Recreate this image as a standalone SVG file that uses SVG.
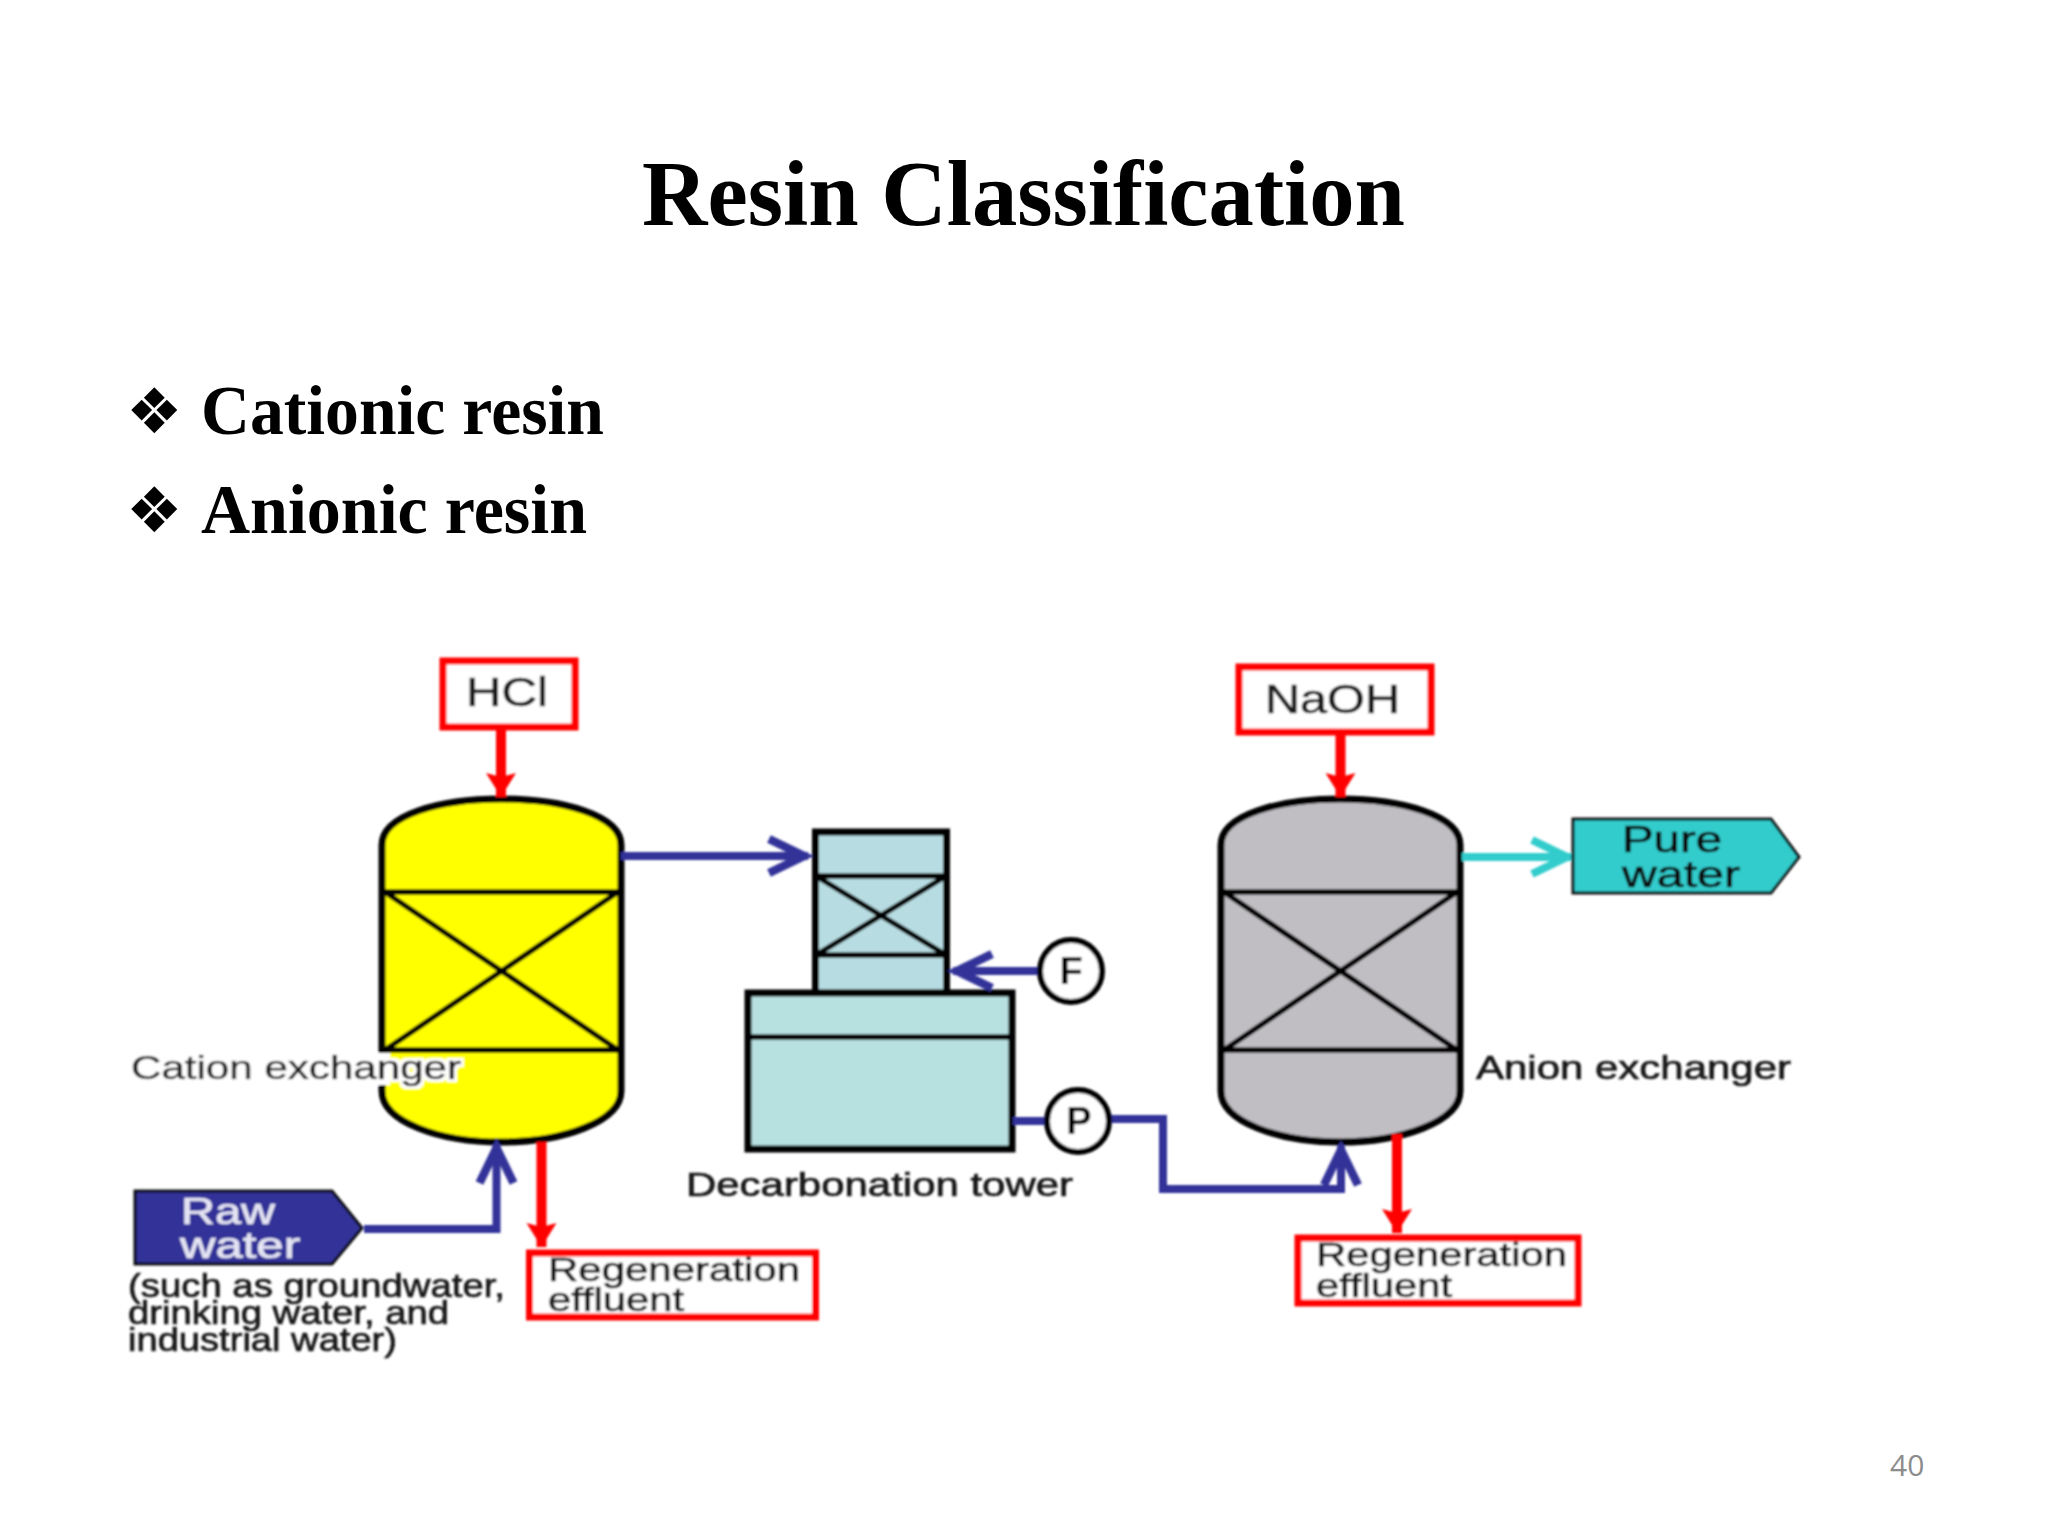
<svg xmlns="http://www.w3.org/2000/svg" width="2048" height="1536" viewBox="0 0 2048 1536">
<style>
.serif{font-family:"Liberation Serif","Times New Roman",serif;font-weight:bold;fill:#000}
.bul{font-family:"DejaVu Sans",sans-serif;font-size:63px;fill:#000}
.lab{font-family:"Liberation Sans",Arial,sans-serif;font-size:33px;fill:#1a1a1a;stroke:#1a1a1a;stroke-width:.7}
.big{font-size:41px}
.wht{fill:#e4e4f4;stroke:#e4e4f4;font-size:37px}
.out{fill:none;stroke:#000;stroke-width:7}
.thin{fill:none;stroke:#000;stroke-width:5.5}
.redbox{fill:#fff;stroke:#f00;stroke-width:7}
.red{fill:none;stroke:#f00;stroke-width:10;marker-end:url(#rh)}
.blue{fill:none;stroke:#333399;stroke-width:8;marker-end:url(#bh)}
.plain{fill:none;stroke:#333399;stroke-width:8}
.cyan{fill:none;stroke:#33cccc;stroke-width:8;marker-end:url(#ch)}
.circ{fill:#fff;stroke:#000;stroke-width:6}
.let{font-family:"Liberation Sans",Arial,sans-serif;font-weight:bold;font-size:38px;fill:#000;text-anchor:middle}
</style>
<defs>
<marker id="rh" markerUnits="userSpaceOnUse" markerWidth="34" markerHeight="34" refX="24" refY="16" orient="auto"><path d="M0,1 L24,16 L0,31 L4,16 Z" fill="#f00"/></marker>
<marker id="bh" markerUnits="userSpaceOnUse" markerWidth="48" markerHeight="46" refX="42" refY="23" orient="auto"><path d="M3,6 L38,23 L3,40" fill="none" stroke="#333399" stroke-width="8.500"/></marker>
<marker id="ch" markerUnits="userSpaceOnUse" markerWidth="48" markerHeight="46" refX="42" refY="23" orient="auto"><path d="M3,6 L38,23 L3,40" fill="none" stroke="#33cccc" stroke-width="8"/></marker>
<filter id="soft" x="-2%" y="-2%" width="104%" height="104%"><feGaussianBlur stdDeviation="0.9"/></filter>
<filter id="halo" x="-3%" y="-20%" width="106%" height="140%"><feMorphology in="SourceAlpha" operator="dilate" radius="3" result="d"/><feFlood flood-color="#fff"/><feComposite in2="d" operator="in" result="w"/><feMerge><feMergeNode in="w"/><feMergeNode in="SourceGraphic"/></feMerge></filter>
</defs>
<rect width="2048" height="1536" fill="#fff"/>
<text class="serif" x="642" y="225" font-size="94" textLength="763" lengthAdjust="spacingAndGlyphs">Resin Classification</text>
<text class="bul" x="126" y="433">❖</text>
<text class="serif" x="201" y="434" font-size="70" textLength="403" lengthAdjust="spacingAndGlyphs">Cationic resin</text>
<text class="bul" x="126" y="532">❖</text>
<text class="serif" x="201" y="533" font-size="70" textLength="386" lengthAdjust="spacingAndGlyphs">Anionic resin</text>
<text x="1890" y="1476" font-family="'Open Sans',sans-serif" font-size="30" fill="#8c8c8c">40</text>
<g filter="url(#soft)">
<g id="cation-exchanger">
<path d="M382,845 C382,815 440,799 501,799 C562,799 621,815 621,845 V1091 C621,1122 562,1142 501,1142 C440,1142 382,1122 382,1091 Z" fill="#ff0" stroke="#000" stroke-width="7"/>
<path class="thin" d="M382,892 H621 M382,1050 H621 M385,892 L618,1050 M618,892 L385,1050"/>
<rect x="374" y="1053" width="16" height="32" fill="#fff"/>
<text class="lab" x="131" y="1079" textLength="330" lengthAdjust="spacingAndGlyphs" filter="url(#halo)">Cation exchanger</text>
</g>
<g id="decarbonation-tower">
<rect x="815.500" y="832" width="131" height="161" class="out" style="fill:#b7dde2"/>
<path class="thin" d="M814,876 H948 M814,955 H948 M816,876 L946,955 M946,876 L816,955"/>
<rect x="748" y="993" width="264" height="156" class="out" style="fill:#b7e0e0"/>
<path class="thin" d="M748,1037 H1012"/>
<text class="lab" x="686" y="1196" textLength="387" lengthAdjust="spacingAndGlyphs">Decarbonation tower</text>
</g>
<g id="anion-exchanger">
<path d="M1221,845 C1221,815 1279,799 1340,799 C1401,799 1460,815 1460,845 V1091 C1460,1122 1401,1142 1340,1142 C1279,1142 1221,1122 1221,1091 Z" fill="#c0bec2" stroke="#000" stroke-width="7"/>
<path class="thin" d="M1221,892 H1460 M1221,1050 H1460 M1224,892 L1457,1050 M1457,892 L1224,1050"/>
<text class="lab" x="1476" y="1079" textLength="315" lengthAdjust="spacingAndGlyphs">Anion exchanger</text>
</g>
<g id="connectors">
<path class="red" d="M501,729 V797"/>
<path class="red" d="M1340.500,734 V797"/>
<path class="red" d="M541.500,1142 V1247"/>
<path class="red" d="M1397,1134 V1233"/>
<path class="blue" d="M621,856 H808"/>
<path class="blue" d="M364,1229 H496.500 V1144"/>
<path class="blue" d="M1038,971 H953"/>
<path class="plain" d="M1013,1121 H1046"/>
<path class="blue" d="M1110,1119 H1163 V1189 H1341 V1146"/>
<path class="cyan" d="M1462,857 H1571"/>
</g>
<g id="hcl"><rect class="redbox" x="443" y="661" width="132" height="66"/><text class="lab big" x="466" y="706" textLength="82" lengthAdjust="spacingAndGlyphs">HCl</text></g>
<g id="naoh"><rect class="redbox" x="1239" y="667" width="192" height="65"/><text class="lab big" x="1265" y="713" textLength="135" lengthAdjust="spacingAndGlyphs">NaOH</text></g>
<g id="regeneration-effluent-1"><rect class="redbox" x="529.500" y="1253" width="286" height="64"/><text class="lab" x="548" y="1281" textLength="252" lengthAdjust="spacingAndGlyphs">Regeneration</text><text class="lab" x="548" y="1311" textLength="136" lengthAdjust="spacingAndGlyphs">effluent</text></g>
<g id="regeneration-effluent-2"><rect class="redbox" x="1298" y="1238" width="280" height="65"/><text class="lab" x="1316" y="1266" textLength="251" lengthAdjust="spacingAndGlyphs">Regeneration</text><text class="lab" x="1316" y="1297" textLength="136" lengthAdjust="spacingAndGlyphs">effluent</text></g>
<g id="raw-water"><path d="M135,1191 H332 L362,1228 L332,1264 H135 Z" fill="#333399" stroke="#111" stroke-width="3"/><text class="lab wht" x="181" y="1224" textLength="94" lengthAdjust="spacingAndGlyphs">Raw</text><text class="lab wht" x="180" y="1258" textLength="120" lengthAdjust="spacingAndGlyphs">water</text></g>
<g id="raw-water-note"><text class="lab" x="128" y="1297" textLength="377" lengthAdjust="spacingAndGlyphs">(such as groundwater,</text><text class="lab" x="128" y="1324" textLength="321" lengthAdjust="spacingAndGlyphs">drinking water, and</text><text class="lab" x="128" y="1351" textLength="269" lengthAdjust="spacingAndGlyphs">industrial water)</text></g>
<g id="pure-water"><path d="M1573,819 H1771 L1799,857 L1771,893 H1573 Z" fill="#33cccc" stroke="#111" stroke-width="3"/><text class="lab" style="font-size:37px;fill:#111;stroke:#111" x="1622" y="852" textLength="100" lengthAdjust="spacingAndGlyphs">Pure</text><text class="lab" style="font-size:37px;fill:#111;stroke:#111" x="1622" y="887" textLength="118" lengthAdjust="spacingAndGlyphs">water</text></g>
<g id="flow-meter"><circle class="circ" cx="1071" cy="971" r="31"/><text class="let" x="1071" y="984">F</text></g>
<g id="pump"><circle class="circ" cx="1078" cy="1121" r="31"/><text class="let" x="1079" y="1134">P</text></g>
</g>
</svg>
